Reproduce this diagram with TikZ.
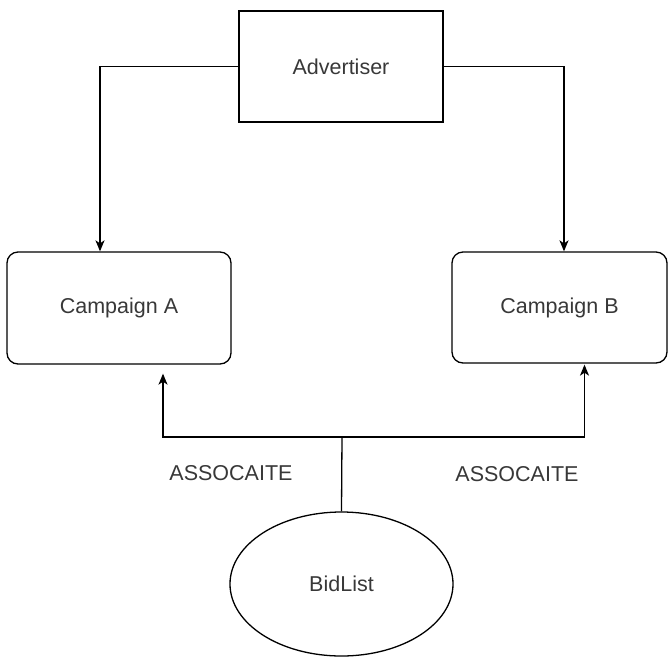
\documentclass[tikz,border=0pt]{standalone}
\usepackage{fontspec}
\setmainfont{Liberation Sans}
\usetikzlibrary{arrows.meta,shapes.geometric}
\begin{document}
\begin{tikzpicture}[x=1pt,y=-1pt,
  txt/.style={text=black!78, font=\fontsize{21.5}{24}\selectfont},
  shp/.style={draw=black, line width=1.3pt, txt, inner sep=0pt},
  plainbox/.style={shp, rectangle},
  roundbox/.style={shp, rectangle, rounded corners=11pt},
  oval/.style={shp, ellipse},
  conn/.style={draw=black, line width=1.3pt},
  arr/.style={conn, -{Stealth[length=11pt,width=9pt,inset=3pt]}},
  lbl/.style={txt, inner sep=0pt}]
\useasboundingbox (0,0) rectangle (670,657);

\node[plainbox, minimum width=204pt, minimum height=111pt] (adv) at (341,66.5) {Advertiser};
\node[roundbox, minimum width=224pt, minimum height=112pt] (ca) at (119,308) {Campaign A};
\node[roundbox, minimum width=215pt, minimum height=111pt] (cb) at (559.5,307.5) {Campaign B};
\node[oval, minimum width=223pt, minimum height=144pt] (bid) at (341.5,584) {BidList};

\coordinate (j) at (342,437);

\draw[arr] (adv.west) -| ([xshift=-19pt]ca.north);
\draw[arr] (adv.east) -| ([xshift=4.5pt]cb.north);
\draw[conn] (bid.north) -- (j);
\draw[arr, shorten >=9pt] (j) -| ([xshift=44pt]ca.south);
\draw[arr, shorten >=1pt] (j) -| ([xshift=25pt]cb.south);

\node[lbl] (l1) at (231,473) {ASSOCAITE};
\node[lbl] (l2) at (517,474) {ASSOCAITE};
\end{tikzpicture}
\end{document}
